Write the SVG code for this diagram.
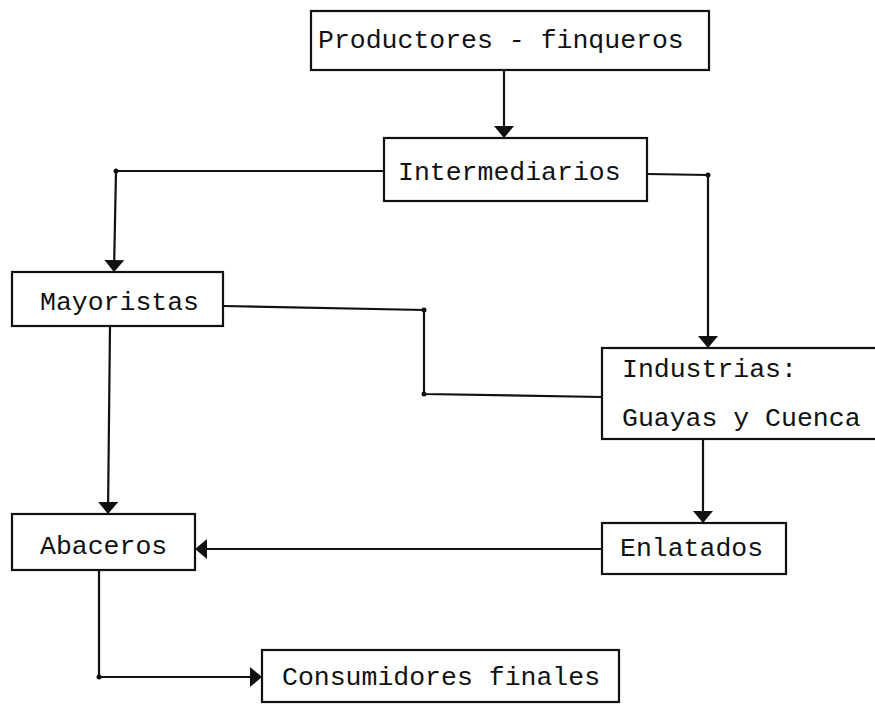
<svg xmlns="http://www.w3.org/2000/svg" width="875" height="708" viewBox="0 0 875 708">
<style>
.box{fill:#fff;stroke:#111;stroke-width:2.2}
.lbl{font-family:"Liberation Mono","DejaVu Sans Mono",monospace;font-size:26.5px;fill:#111}
.con{fill:none;stroke:#111;stroke-width:2.2;stroke-linejoin:miter}
.dot{fill:#111}
</style>
<defs>
<marker id="arr" viewBox="0 0 12 20" refX="12" refY="10" markerWidth="12" markerHeight="20" orient="auto" markerUnits="userSpaceOnUse">
<path d="M0,0 L12,10 L0,20 z" fill="#111"/>
</marker>
</defs>
<rect width="875" height="708" fill="#fff"/>
<g id="connectors">
<path class="con" d="M504,70 V138" marker-end="url(#arr)"/>
<path class="con" d="M384,171 H116 L114,272" marker-end="url(#arr)"/>
<path class="con" d="M647,174 L708,175 V348" marker-end="url(#arr)"/>
<path class="con" d="M223,306 L424,310 V394 L602,397"/>
<path class="con" d="M703,439 V523" marker-end="url(#arr)"/>
<path class="con" d="M110,326 L108,514" marker-end="url(#arr)"/>
<path class="con" d="M602,549 H195" marker-end="url(#arr)"/>
<path class="con" d="M99,570 V677 H262" marker-end="url(#arr)"/>
<circle class="dot" cx="116" cy="171" r="2.5"/>
<circle class="dot" cx="708" cy="175" r="2.5"/>
<circle class="dot" cx="424" cy="310" r="2.5"/>
<circle class="dot" cx="424" cy="394" r="2.5"/>
<circle class="dot" cx="99" cy="677" r="2.5"/>
</g>
<g id="productores">
<rect class="box" x="311" y="11" width="398" height="59"/>
<text class="lbl" x="318" y="48">Productores - finqueros</text>
</g>
<g id="intermediarios">
<rect class="box" x="384" y="138" width="263" height="63"/>
<text class="lbl" x="398" y="180">Intermediarios</text>
</g>
<g id="mayoristas">
<rect class="box" x="12" y="272" width="211" height="54"/>
<text class="lbl" x="40" y="310">Mayoristas</text>
</g>
<g id="industrias">
<rect class="box" x="602" y="348" width="285" height="91"/>
<text class="lbl" x="622" y="377">Industrias:</text>
<text class="lbl" x="622" y="426">Guayas y Cuenca</text>
</g>
<g id="abaceros">
<rect class="box" x="12" y="514" width="183" height="56"/>
<text class="lbl" x="40" y="554">Abaceros</text>
</g>
<g id="enlatados">
<rect class="box" x="602" y="523" width="184" height="51"/>
<text class="lbl" x="620" y="556">Enlatados</text>
</g>
<g id="consumidores">
<rect class="box" x="262" y="650" width="357" height="52"/>
<text class="lbl" x="282" y="685">Consumidores finales</text>
</g>
</svg>
